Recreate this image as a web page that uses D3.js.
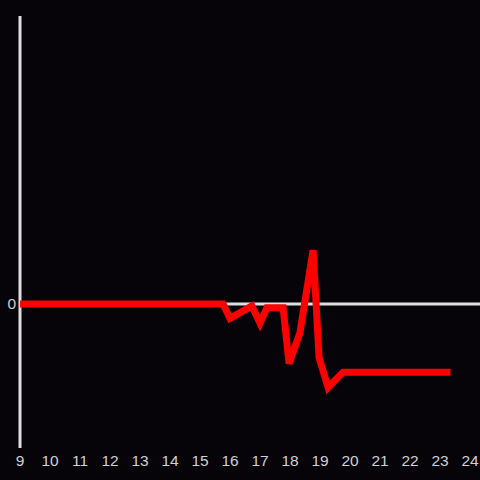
<!DOCTYPE html>
<html>
<head>
<meta charset="utf-8">
<script src="https://cdn.jsdelivr.net/npm/d3@7"></script>
<style>
  html, body { margin: 0; padding: 0; background: #060409; }
  svg { display: block; }
</style>
</head>
<body>
<div id="chart"></div>
<script>
// hour of day and value
var hours  = [9, 15.77, 16.0, 16.73, 17.0, 17.23, 17.77, 17.97, 18.33, 18.77, 18.97, 19.27, 19.77, 23.35];
var values = [0, 0, -0.15, -0.02, -0.2, -0.04, -0.04, -0.62, -0.3, 0.56, -0.56, -0.87, -0.71, -0.71];
var xTicks = [9, 10, 11, 12, 13, 14, 15, 16, 17, 18, 19, 20, 21, 22, 23, 24];
var yTicks = [0];

var width = 480, height = 480;
var data = hours.map(function(h, i){ return {x: h, y: values[i]}; });

var svg = d3.select("#chart").append("svg")
  .attr("width", width)
  .attr("height", height)
  .style("background", "#060409");

var x = d3.scaleLinear().domain([9, 24]).range([20, 470]);
var y = d3.scaleLinear().domain([-1.5, 3]).range([448, 16]);

// y axis line
svg.append("line")
  .attr("x1", x(9)).attr("x2", x(9))
  .attr("y1", y(3)).attr("y2", y(-1.5))
  .attr("stroke", "#dedede")
  .attr("stroke-width", 3);

// zero line
svg.append("line")
  .attr("x1", x(9)).attr("x2", width)
  .attr("y1", y(0)).attr("y2", y(0))
  .attr("stroke", "#dedede")
  .attr("stroke-width", 3);

var font = "'Liberation Sans', Arial, sans-serif";

// x tick labels
svg.selectAll(".xl").data(xTicks).enter().append("text")
  .attr("class", "xl")
  .attr("x", d => x(d))
  .attr("y", 466)
  .attr("text-anchor", "middle")
  .style("font-family", font)
  .style("font-size", "15.5px")
  .style("fill", "#d0d0d0")
  .text(d => d);

// y tick labels
svg.selectAll(".yl").data(yTicks).enter().append("text")
  .attr("class", "yl")
  .attr("x", 16)
  .attr("y", d => y(d))
  .attr("dy", "0.35em")
  .attr("text-anchor", "end")
  .style("font-family", font)
  .style("font-size", "15.5px")
  .style("fill", "#d0d0d0")
  .text(d => d);

var line = d3.line().x(d => x(d.x)).y(d => y(d.y));

svg.append("path")
  .datum(data)
  .attr("d", line)
  .attr("fill", "none")
  .attr("stroke", "#ff0000")
  .attr("stroke-width", 7);
</script>
</body>
</html>
